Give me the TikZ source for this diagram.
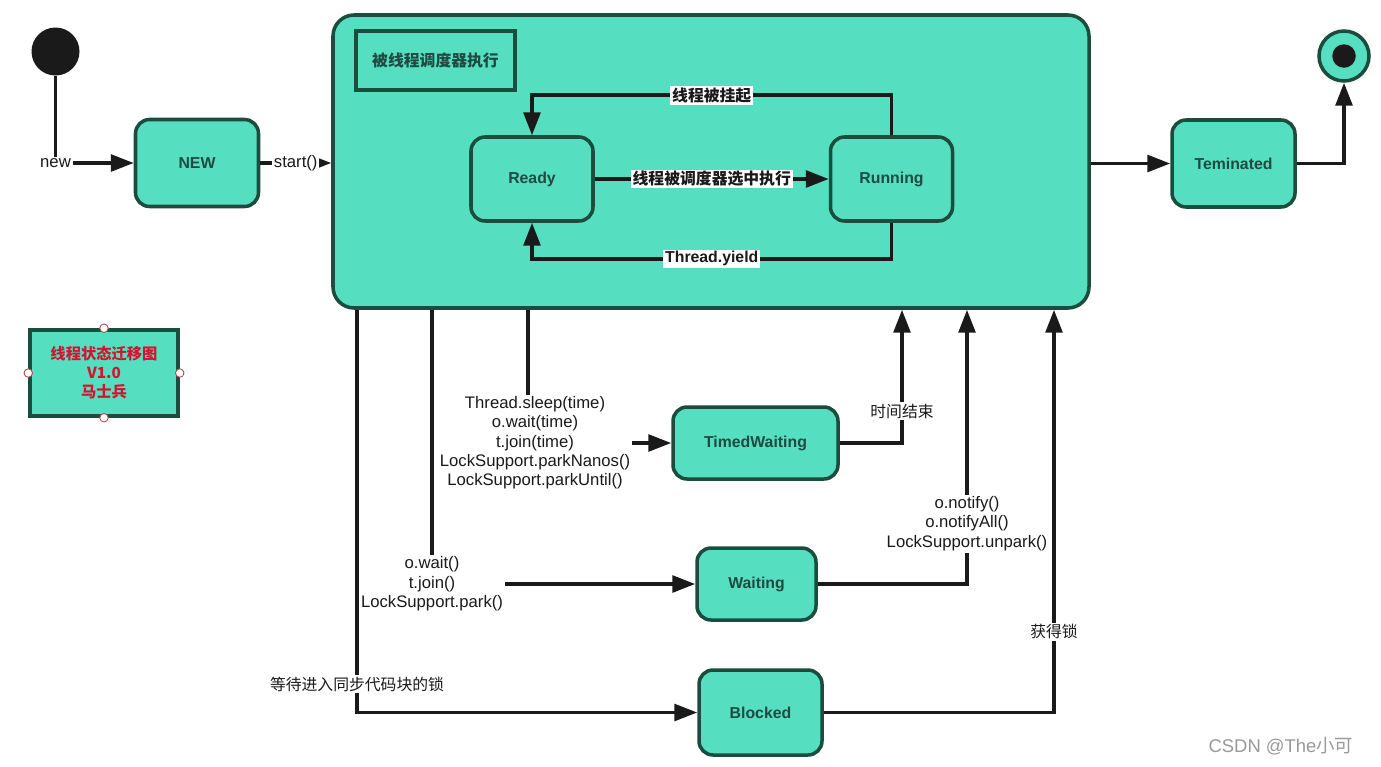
\documentclass[tikz,border=0pt]{standalone}
\usepackage{fontspec}
\setmainfont{Liberation Sans}
\newfontfamily\cjk{Noto Sans CJK SC}
\usetikzlibrary{arrows.meta,positioning,calc}
\definecolor{stfill}{HTML}{55DEC0}
\definecolor{stedge}{HTML}{1B4D3E}
\definecolor{sttext}{HTML}{1F4A42}
\definecolor{lnclr}{HTML}{1A1A1A}
\definecolor{notered}{HTML}{D4142E}
\tikzset{
  st/.style={draw=stedge,fill=stfill,rectangle,rounded corners=8pt,line width=2pt,text=sttext,font=\bfseries\fontsize{9}{11}\selectfont,align=center},
  tagbox/.style={draw=stedge,fill=stfill,rectangle,line width=2pt,text=sttext,font=\cjk\bfseries\fontsize{9}{11}\selectfont},
  notebox/.style={tagbox,text=notered,align=center,font=\cjk\bfseries\fontsize{8.7}{10.8}\selectfont},
  handle/.style={circle,draw=gray!60!red,fill=white,minimum size=0.17cm,inner sep=0pt,line width=0.5pt},
  initst/.style={circle,fill=lnclr,minimum size=0.96cm,inner sep=0pt},
  finst/.style={circle,draw=stedge,fill=stfill,line width=2pt,minimum size=1.0cm,inner sep=0pt},
  findot/.style={circle,fill=lnclr,minimum size=0.47cm,inner sep=0pt},
  arr/.style={-{Triangle[length=13pt,width=9.5pt]},line width=2pt,draw=lnclr},
  lbl/.style={fill=white,inner sep=1pt,text=lnclr,font=\fontsize{9.5}{11}\selectfont,align=center},
  blbl/.style={lbl,font=\bfseries\fontsize{9}{11}\selectfont},
  zlbl/.style={lbl,font=\cjk\fontsize{9}{11}\selectfont},
  zblbl/.style={lbl,font=\cjk\bfseries\fontsize{9}{11}\selectfont}
}
\begin{document}
\begin{tikzpicture}
  \useasboundingbox (0,0) rectangle (27.62,-15.32);
  % Start and NEW
  \node[initst] (start) at (1.11,-1.03) {};
  \node[st, minimum width=2.46cm, minimum height=1.74cm] (new) at (3.94,-3.26) {NEW};
  \draw[arr] (start) |- (new) node[lbl, pos=0.5] {new};

  % Scheduler box
  \node[st, rounded corners=12pt, minimum width=15.12cm, minimum height=5.86cm] (sched) at (14.22,-3.23) {};
  \node[tagbox, minimum width=3.18cm, minimum height=1.18cm] (tag) at (8.71,-1.21) {被线程调度器执行};
  \draw[arr] (new) -- (new -| sched.west) node[lbl, midway] {start()};

  % Ready and Running
  \node[st, minimum width=2.44cm, minimum height=1.68cm] (ready) at (10.64,-3.58) {Ready};
  \node[st, minimum width=2.44cm, minimum height=1.68cm] (running) at (17.83,-3.58) {Running};
  \draw[arr] (ready) -- (running) node[zblbl, midway] {线程被调度器选中执行};
  \draw[arr] (running.north) -- ++(0,0.8) -| (ready.north) node[zblbl, pos=0.25] {线程被挂起};
  \draw[arr] (running.south) -- ++(0,-0.72) -| (ready.south) node[blbl, pos=0.25] {Thread.yield};

  % Terminated and final state
  \node[st, minimum width=2.46cm, minimum height=1.74cm] (term) at (24.67,-3.27) {Teminated};
  \node[finst] (fin) at (26.88,-1.12) {};
  \node[findot] (findot) at (fin) {};
  \draw[arr] (sched.east |- term) -- (term);
  \draw[arr] (term) -| (fin);

  % Note
  \node[notebox, minimum width=2.96cm, minimum height=1.72cm] (note) at (2.08,-7.46) {线程状态迁移图\\V1.0\\马士兵};
  \foreach \a in {north,south,east,west}
    \node[handle] (h-\a) at (note.\a) {};

  % Waiting states
  \node[st, minimum width=3.30cm, minimum height=1.44cm] (timed) at (15.11,-8.86) {TimedWaiting};
  \node[st, minimum width=2.38cm, minimum height=1.44cm] (waiting) at (15.13,-11.68) {Waiting};
  \node[st, minimum width=2.46cm, minimum height=1.70cm] (blocked) at (15.21,-14.25) {Blocked};

  \coordinate (o1) at (7.14,0);
  \coordinate (o2) at (8.64,0);
  \coordinate (o3) at (10.56,0);
  \coordinate (i1) at (18.04,0);
  \coordinate (i2) at (19.34,0);
  \coordinate (i3) at (21.08,0);

  \draw[arr] (o3 |- sched.south) |- (timed) node[lbl, pos=0.5, xshift=4pt] {Thread.sleep(time)\\o.wait(time)\\t.join(time)\\LockSupport.parkNanos()\\LockSupport.parkUntil()};
  \draw[arr] (o2 |- sched.south) |- (waiting) node[lbl, pos=0.5] {o.wait()\\t.join()\\LockSupport.park()};
  \draw[arr] (o1 |- sched.south) |- (blocked) node[zlbl, pos=0.465] {等待进入同步代码块的锁};
  \draw[arr] (timed) -| (i1 |- sched.south) node[zlbl, pos=0.62] {时间结束};
  \draw[arr] (waiting) -| (i2 |- sched.south) node[lbl, pos=0.61] {o.notify()\\o.notifyAll()\\LockSupport.unpark()};
  \draw[arr] (blocked) -| (i3 |- sched.south) node[zlbl, pos=0.6] {获得锁};

  % Watermark
  \node[text=gray!80, font=\fontsize{10.5}{12}\selectfont] (mark) at (25.62,-14.92) {CSDN @The{\cjk 小可}};
\end{tikzpicture}
\end{document}
